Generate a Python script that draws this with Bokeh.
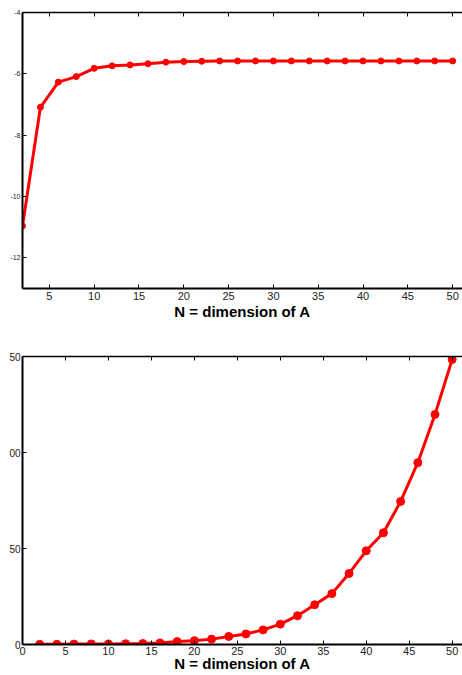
from bokeh.plotting import figure
from bokeh.models import LinearAxis, Range1d, FixedTicker
from bokeh.layouts import column
from bokeh.embed import file_html
from bokeh.resources import INLINE

# ---- data ----
N = [2, 4, 6, 8, 10, 12, 14, 16, 18, 20, 22, 24, 26, 28, 30,
     32, 34, 36, 38, 40, 42, 44, 46, 48, 50]
top_vals = [-10.96, -7.09, -6.27, -6.09, -5.82, -5.74, -5.71, -5.67, -5.62,
            -5.60, -5.59, -5.58, -5.58, -5.58, -5.58, -5.58, -5.58, -5.58,
            -5.58, -5.58, -5.58, -5.58, -5.58, -5.58, -5.58]
bottom_vals = [0.1, 0.1, 0.2, 0.3, 0.3, 0.4, 0.5, 0.8, 1.5, 2.0, 2.8, 4.2,
               5.5, 7.6, 10.6, 15.0, 20.7, 26.5, 37.0, 48.8, 58.2, 74.5,
               94.7, 119.8, 148.5]

top_xticks = [5, 10, 15, 20, 25, 30, 35, 40, 45, 50]
top_yticks = [-12, -10, -8, -6, -4]
top_ylabels = ["-12", "-10", "-8", "-6", "-4"]
bot_xticks = [0, 5, 10, 15, 20, 25, 30, 35, 40, 45, 50]
bot_yticks = [0, 50, 100, 150]
bot_ylabels = ["0", "50", "00", "50"]
x_title = "N = dimension of A"

FONT = "Liberation Sans"
RED = "#ff0000"


def style(p, xticks, yticks, ylabels, ylab_size, lab_standoff, title_standoff):
    p.xgrid.visible = False
    p.ygrid.visible = False
    p.outline_line_color = None
    p.background_fill_color = "white"
    p.border_fill_color = "white"

    xa = p.xaxis[0]
    xa.ticker = FixedTicker(ticks=xticks)
    xa.axis_line_color = "black"
    xa.axis_line_width = 2
    xa.major_tick_in = 4
    xa.major_tick_out = 0
    xa.minor_tick_line_color = None
    xa.major_tick_line_color = "black"
    xa.major_label_text_font = FONT
    xa.major_label_text_font_size = "11px"
    xa.major_label_text_color = "#222222"
    xa.major_label_standoff = lab_standoff
    xa.axis_label = x_title
    xa.axis_label_text_font = FONT
    xa.axis_label_text_font_style = "bold"
    xa.axis_label_text_font_size = "15px"
    xa.axis_label_text_color = "black"
    xa.axis_label_standoff = title_standoff

    ya = p.yaxis[0]
    ya.ticker = FixedTicker(ticks=yticks)
    ya.major_label_overrides = {t: l for t, l in zip(yticks, ylabels)}
    ya.axis_line_color = "black"
    ya.axis_line_width = 2
    ya.major_tick_in = 4
    ya.major_tick_out = 0
    ya.minor_tick_line_color = None
    ya.major_tick_line_color = "black"
    ya.major_label_text_font = FONT
    ya.major_label_text_font_size = ylab_size
    ya.major_label_text_color = "#222222"
    ya.major_label_standoff = 2

    # top box edge with inward ticks, no labels
    top = LinearAxis(ticker=FixedTicker(ticks=xticks))
    top.axis_line_color = "black"
    top.axis_line_width = 1.5
    top.major_tick_in = 4
    top.major_tick_out = 0
    top.minor_tick_line_color = None
    top.major_label_text_font_size = "0px"
    top.major_label_text_color = None
    top.major_label_standoff = 0
    p.add_layout(top, "above")


p1 = figure(frame_width=440, frame_height=276,
            x_range=Range1d(2, 51.1), y_range=Range1d(-13, -4),
            output_backend="svg", toolbar_location=None,
            min_border_left=22, min_border_right=0,
            min_border_top=12, min_border_bottom=0)
style(p1, top_xticks, top_yticks, top_ylabels, "7px", 3, 0)
p1.line(N, top_vals, line_color=RED, line_width=3)
p1.scatter(N, top_vals, size=6, color=RED)

p2 = figure(frame_width=440, frame_height=288,
            x_range=Range1d(0, 51.2), y_range=Range1d(0, 150),
            output_backend="svg", toolbar_location=None,
            min_border_left=22, min_border_right=0,
            min_border_top=34, min_border_bottom=0)
style(p2, bot_xticks, bot_yticks, bot_ylabels, "10px", 2, -3)
p2.line(N, bottom_vals, line_color=RED, line_width=3)
p2.scatter(N, bottom_vals, size=8, color=RED)

layout = column(p1, p2, spacing=0)
open("out.html", "w").write(file_html(layout, INLINE))
